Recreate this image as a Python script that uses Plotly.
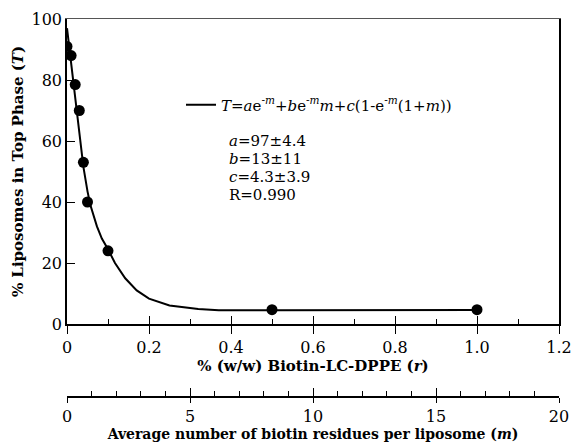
import plotly.graph_objects as go

# ---- data ----
r_data = [0.0, 0.01, 0.02, 0.03, 0.04, 0.05, 0.10, 0.50, 1.00]
T_data = [91, 88, 78.5, 70, 53, 40, 24, 4.7, 4.7]

r_fit = [0.0, 0.01, 0.02, 0.03, 0.04, 0.05, 0.057, 0.073, 0.085, 0.10,
         0.117, 0.142, 0.17, 0.20, 0.25, 0.32, 0.37, 0.50, 1.00]
T_fit = [97, 86, 75, 62, 51.5, 43.5, 39, 32, 28, 24.5,
         20, 15, 11, 8.3, 6.1, 4.9, 4.5, 4.5, 4.6]

x_ticks = [0, 0.2, 0.4, 0.6, 0.8, 1.0, 1.2]
x_ticktext = ["0", "0.2", "0.4", "0.6", "0.8", "1.0", "1.2"]
x_minor = [0.1, 0.3, 0.5, 0.7, 0.9, 1.1]
y_ticks = [0, 20, 40, 60, 80, 100]
m_ticks = [0, 5, 10, 15, 20]
m_minor = [i for i in range(21) if i % 5]

eq_text = ("<i>T</i>=<i>a</i>e<sup>-<i>m</i></sup>+<i>b</i>e<sup>-<i>m</i></sup><i>m</i>"
           "+<i>c</i>(1-e<sup>-<i>m</i></sup>(1+<i>m</i>))")
param_lines = ["<i>a</i>=97±4.4", "<i>b</i>=13±11", "<i>c</i>=4.3±3.9", "R=0.990"]

# ---- geometry (pixels) ----
W, H = 574, 447
L, R, T, B = 67, 15, 19, 50
plot_bottom_px = 324
ph = H - T - B


def px_x(px):
    return (px - L) / (W - L - R)


def px_y(py):
    return (H - B - py) / ph


FONT = "DejaVu Serif"
FS_TICK = 16
FS_TXT = 15

fig = go.Figure()
fig.add_trace(go.Scatter(x=r_fit, y=T_fit, mode="lines", name=eq_text,
                         line=dict(color="black", width=2), hoverinfo="skip"))
fig.add_trace(go.Scatter(x=r_data, y=T_data, mode="markers", showlegend=False,
                         marker=dict(color="black", size=11)))
for xa in ["x2", "x3", "x4", "x5"]:
    fig.add_trace(go.Scatter(x=[None], y=[None], xaxis=xa, yaxis="y",
                             showlegend=False, hoverinfo="skip"))

axis_common = dict(showgrid=False, zeroline=False, linecolor="black",
                   tickcolor="black", automargin=False,
                   ticklabeloverflow="allow")

fig.update_layout(
    width=W, height=H,
    margin=dict(l=L, r=R, t=T, b=B, autoexpand=False),
    paper_bgcolor="white", plot_bgcolor="white",
    font=dict(family=FONT, size=FS_TICK, color="black"),
    showlegend=True,
    legend=dict(x=px_x(181), y=px_y(105), xanchor="left", yanchor="middle",
                bgcolor="rgba(0,0,0,0)", font=dict(size=FS_TXT, family=FONT),
                itemwidth=30),
    xaxis=dict(range=[0, 1.2], tickvals=x_ticks, ticktext=x_ticktext,
               ticks="outside", ticklen=8, tickwidth=1.3,
               showline=True, linewidth=1.5, mirror=False,
               tickfont=dict(family=FONT, size=FS_TICK),
               minor=dict(tickvals=x_minor, ticks="inside", ticklen=5,
                          tickwidth=1.3, tickcolor="black"),
               title=dict(text="<b>% (w/w) Biotin-LC-DPPE (<i>r</i>)</b>",
                          standoff=3, font=dict(size=FS_TXT, family=FONT)),
               **axis_common),
    xaxis3=dict(range=[0, 1.2], overlaying="x", anchor="y", tickvals=x_ticks,
                ticks="inside", ticklen=8, tickwidth=1.3, showticklabels=False,
                showline=False, **axis_common),
    xaxis5=dict(range=[0, 1.2], overlaying="x", anchor="y", side="top",
                showline=True, linecolor="#555", linewidth=1.2, ticks="",
                showticklabels=False, showgrid=False, zeroline=False,
                automargin=False),
    xaxis2=dict(range=[0, 20], overlaying="x", anchor="free", position=0,
                tickvals=m_ticks, ticks="outside", ticklen=5, tickwidth=1.3,
                showline=True, linewidth=1.5,
                tickfont=dict(family=FONT, size=FS_TICK),
                minor=dict(tickvals=m_minor, ticks="inside", ticklen=5,
                           tickwidth=1.3, tickcolor="black"),
                title=dict(text="<b>Average number of biotin residues per liposome (<i>m</i>)</b>",
                           standoff=1, font=dict(size=14, family=FONT)),
                **axis_common),
    xaxis4=dict(range=[0, 20], overlaying="x", anchor="free", position=0,
                tickvals=m_ticks, ticks="inside", ticklen=9, tickwidth=1.3,
                showticklabels=False, showline=False, **axis_common),
    yaxis=dict(range=[0, 100], domain=[px_y(plot_bottom_px), 1],
               tickvals=y_ticks, ticks="inside", ticklen=8, tickwidth=1.3,
               showline=True, linewidth=1.5, mirror=True,
               tickfont=dict(family=FONT, size=FS_TICK),
               title=dict(text="<b>% Liposomes in Top Phase (<i>T</i>)</b>",
                          standoff=4, font=dict(size=FS_TXT, family=FONT)),
               **axis_common),
)

param_y_px = [141, 159, 177, 195]
for txt, py in zip(param_lines, param_y_px):
    fig.add_annotation(x=px_x(227), y=px_y(py), xref="paper", yref="paper",
                       text=txt, showarrow=False, xanchor="left",
                       yanchor="middle", font=dict(size=FS_TXT, family=FONT))

fig.write_html("out.html", config={"displayModeBar": False},
               post_script="document.body.style.margin='0px';"
                           "document.body.style.padding='0px';")
